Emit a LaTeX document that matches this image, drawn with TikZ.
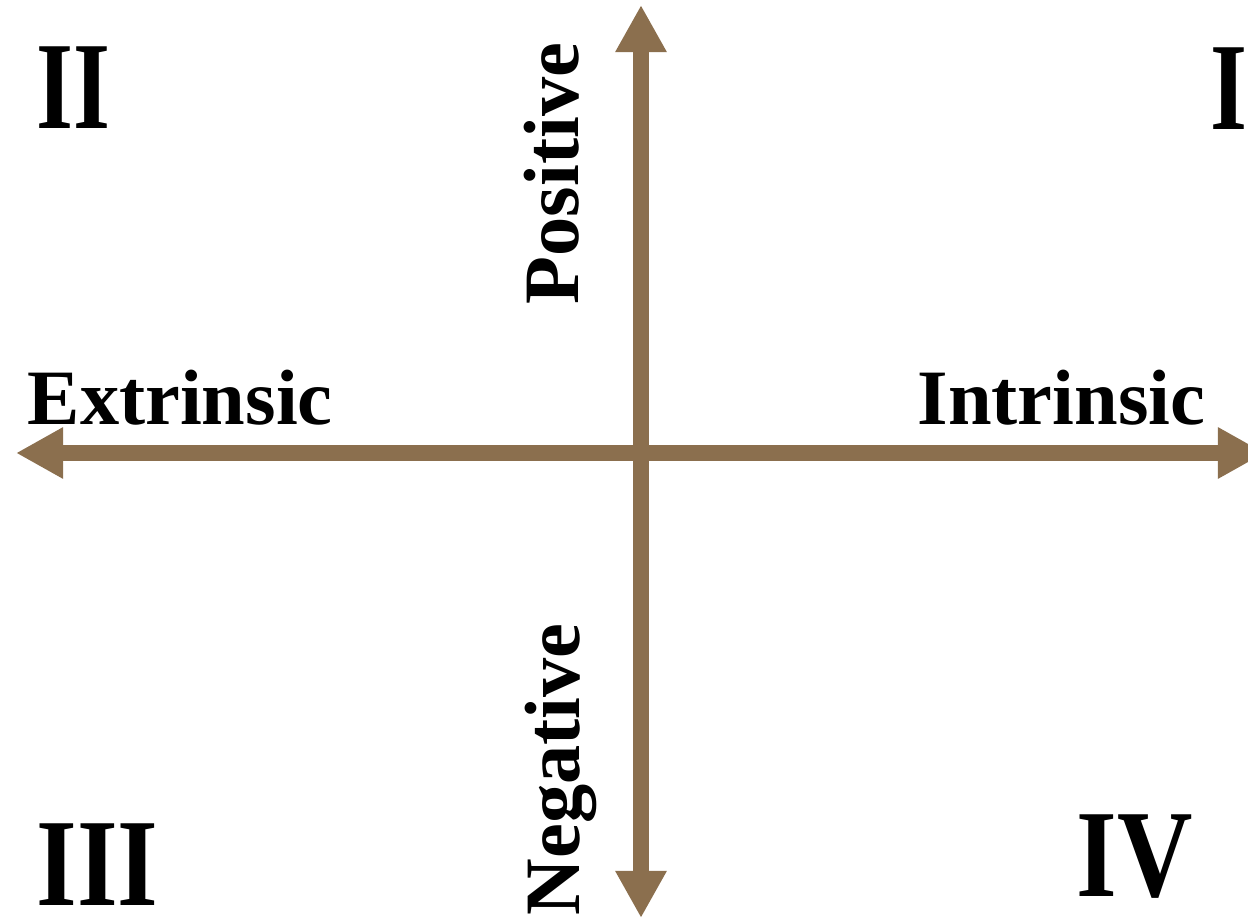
\documentclass[tikz,border=0pt]{standalone}
\usepackage{fontspec}
\setmainfont{Liberation Serif}
\usetikzlibrary{arrows.meta}
\definecolor{axisbrown}{RGB}{139,111,78}

\begin{document}
\begin{tikzpicture}[
    x=0.01cm, y=-0.01cm,
    axis/.style={{Triangle[length=13.4pt,width=13.7pt]}-{Triangle[length=13.4pt,width=13.7pt]}, line width=4.5pt, draw=axisbrown},
    label/.style={inner sep=0pt, font=\fontsize{22.3pt}{24pt}\selectfont\bfseries},
    quadrant/.style={inner sep=0pt, xscale=0.76, font=\fontsize{35.5pt}{38pt}\selectfont\bfseries}
]
\useasboundingbox (0,0) rectangle (1248,919);

% ends of the two axes
\coordinate (west) at (16,453);
\coordinate (east) at (1265,453);
\coordinate (north) at (641,5);
\coordinate (south) at (641,918);

% axes
\draw[axis] (west) -- (east);
\draw[axis] (south) -- (north);

% axis labels
\node[label, anchor=base west] (extrinsic) at (27,425) {Extrinsic};
\node[label, anchor=base east] (intrinsic) at (1206,425) {Intrinsic};
\node[label, rotate=90, anchor=base west] (positive) at (578,305) {Positive};
\node[label, rotate=90, anchor=base west] (negative) at (579,916) {Negative};

% quadrant numbers
\node[quadrant, anchor=base east] (q1) at (1248,130) {I};
\node[quadrant, anchor=base west] (q2) at (36,129) {II};
\node[quadrant, xscale=1.1, anchor=base west] (q3) at (36,906) {III};
\node[quadrant, xscale=1.1, anchor=base west] (q4) at (1076,897) {IV};

\end{tikzpicture}
\end{document}
